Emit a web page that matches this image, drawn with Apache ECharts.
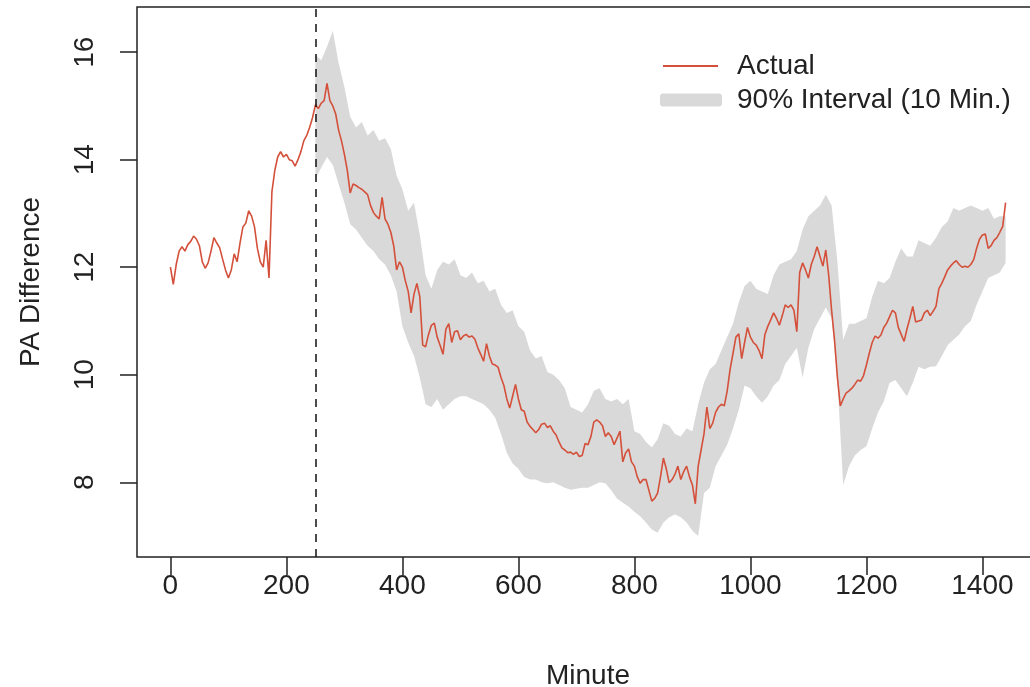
<!DOCTYPE html>
<html>
<head>
<meta charset="utf-8">
<script src="https://cdn.jsdelivr.net/npm/echarts@6/dist/echarts.min.js"></script>
<style>
  html, body { margin: 0; padding: 0; background: #fff; }
  #chartBox { width: 1030px; height: 687px; }
</style>
</head>
<body>
<div id="chartBox"></div>
<script>
// actual PA difference, one value every 5 minutes from 0 to 1440
const actualStart = 0, actualStep = 5;
const actualValues = [
  12.00,11.68,12.05,12.30,12.38,12.30,12.42,12.48,12.58,12.52,12.40,12.10,11.98,12.08,12.30,12.55,12.45,12.36,12.15,11.95,
  11.80,11.95,12.25,12.10,12.45,12.75,12.82,13.05,12.95,12.75,12.35,12.10,12.00,12.50,11.80,13.40,13.80,14.05,14.15,14.05,
  14.10,14.00,13.98,13.88,14.00,14.15,14.35,14.45,14.60,14.78,15.02,14.95,15.05,15.10,15.42,15.10,15.00,14.85,14.55,14.35,
  14.10,13.80,13.38,13.55,13.52,13.48,13.45,13.40,13.35,13.15,13.02,12.95,12.90,13.30,12.90,12.80,12.65,12.40,11.95,12.10,
  12.00,11.75,11.55,11.15,11.50,11.70,11.45,10.55,10.52,10.75,10.92,10.96,10.70,10.55,10.38,10.85,10.95,10.60,10.80,10.82,
  10.65,10.72,10.75,10.70,10.72,10.66,10.50,10.38,10.25,10.58,10.35,10.20,10.18,10.14,9.95,9.80,9.55,9.38,9.60,9.82,
  9.55,9.35,9.32,9.12,9.04,8.98,8.92,8.98,9.08,9.10,9.02,9.05,8.95,8.88,8.75,8.64,8.60,8.55,8.56,8.52,
  8.56,8.48,8.50,8.72,8.70,8.85,9.12,9.16,9.12,9.05,8.85,8.92,8.85,8.70,8.82,8.95,8.38,8.55,8.62,8.38,
  8.30,8.10,7.98,8.05,8.05,7.85,7.65,7.70,7.80,8.10,8.45,8.25,7.99,8.05,8.15,8.30,8.05,8.20,8.30,8.10,
  7.95,7.60,8.30,8.60,8.90,9.40,9.00,9.10,9.30,9.40,9.45,9.42,9.70,10.10,10.40,10.70,10.76,10.30,10.60,10.88,
  10.70,10.60,10.55,10.45,10.30,10.75,10.90,11.02,11.15,11.05,10.92,11.10,11.30,11.25,11.30,11.20,10.80,11.90,12.08,11.95,
  11.80,12.05,12.20,12.38,12.20,12.02,12.32,11.85,11.20,10.65,9.95,9.42,9.55,9.66,9.70,9.75,9.82,9.90,9.88,9.98,
  10.18,10.40,10.60,10.72,10.68,10.74,10.88,10.96,11.08,11.20,11.15,10.88,10.75,10.62,10.85,11.05,11.27,10.98,11.00,11.02,
  11.15,11.20,11.10,11.18,11.27,11.60,11.70,11.82,11.95,12.02,12.08,12.12,12.05,12.00,12.02,12.00,12.05,12.14,12.35,12.52,
  12.60,12.62,12.35,12.40,12.50,12.55,12.65,12.76,13.20
];

// 90% interval (10 min ahead), one value every 10 minutes from 250 to 1440
const bandStart = 250, bandStep = 10;
const bandUpper = [
  15.95,15.85,16.10,16.40,15.80,15.35,14.80,14.60,14.70,14.45,
  14.55,14.35,14.40,14.20,13.70,13.45,13.05,13.20,12.60,11.85,
  11.60,11.95,12.10,12.05,12.15,11.85,11.80,11.90,11.70,11.75,
  11.55,11.60,11.30,11.15,11.20,10.90,10.80,10.45,10.30,10.35,
  10.05,10.00,9.90,9.75,9.40,9.35,9.30,9.45,9.70,9.75,
  9.55,9.50,9.55,9.45,9.55,8.95,8.90,8.75,8.65,8.80,
  9.10,9.05,8.90,8.85,9.00,8.95,9.45,9.85,10.10,10.20,
  10.45,10.70,10.95,11.35,11.65,11.75,11.60,11.55,11.50,11.85,
  12.05,12.10,12.15,12.30,12.70,12.95,13.05,13.15,13.35,13.15,
  12.10,10.65,10.95,10.95,11.00,11.05,11.45,11.75,11.70,11.80,
  12.10,12.35,12.20,12.20,12.50,12.45,12.40,12.55,12.75,12.85,
  13.10,13.05,13.10,13.15,13.10,13.05,13.10,12.90,12.95,12.95
];
const bandLower = [
  13.65,13.85,14.05,13.90,13.55,13.20,12.80,12.70,12.55,12.40,
  12.30,12.15,12.05,11.85,11.55,10.90,10.60,10.35,9.95,9.45,
  9.40,9.55,9.35,9.45,9.55,9.60,9.60,9.55,9.50,9.45,
  9.35,9.20,8.90,8.55,8.35,8.25,8.10,8.05,8.05,8.00,
  7.98,8.00,7.95,7.90,7.86,7.88,7.90,7.90,7.95,8.00,
  7.98,7.85,7.70,7.62,7.55,7.45,7.37,7.25,7.12,7.06,
  7.25,7.35,7.40,7.35,7.25,7.10,7.00,7.80,7.90,8.30,
  8.50,8.70,9.00,9.35,9.80,9.75,9.60,9.48,9.60,9.80,
  9.90,10.20,10.35,10.50,9.95,10.50,10.85,11.05,11.25,11.05,
  9.90,7.95,8.30,8.50,8.60,8.67,9.00,9.30,9.50,9.85,
  9.90,9.75,9.60,9.85,10.15,10.10,10.15,10.16,10.35,10.55,
  10.65,10.75,10.90,11.00,11.30,11.55,11.80,11.85,11.90,12.08
];

const xTicks = [0, 200, 400, 600, 800, 1000, 1200, 1400];
const yTicks = [8, 10, 12, 14, 16];
const forecastStart = 250;

const lineColor = '#d4503a';
const bandColor = '#d9d9d9';
const font = 'Liberation Sans, Arial, sans-serif';
const fs = 28;

const actualData = actualValues.map((v, i) => [actualStart + i * actualStep, v]);
const bandMinutes = bandUpper.map((v, i) => bandStart + i * bandStep);

const myChart = echarts.init(document.getElementById('chartBox'), null, {renderer: 'canvas'});

const option = {
  animation: false,
  backgroundColor: '#fff',
  grid: {
    left: 137, top: 7, width: 902, height: 550,
    outerBoundsMode: 'none',
    containLabel: false,
    show: true, borderColor: '#222', borderWidth: 1.5, backgroundColor: 'transparent'
  },
  legend: [
    {
      data: [{name: 'Actual', icon: 'rect'}],
      left: 658, top: 47, itemWidth: 55, itemHeight: 2,
      textStyle: {fontFamily: font, fontSize: fs, color: '#222', padding: [0, 0, 0, 14]}
    },
    {
      data: [{name: '90% Interval (10 Min.)', icon: 'roundRect'}],
      left: 655, top: 81, itemWidth: 62, itemHeight: 13,
      textStyle: {fontFamily: font, fontSize: fs, color: '#222', padding: [0, 0, 0, 10]}
    }
  ],
  xAxis: {
    type: 'value', min: -57.6, max: 1497.6,
    name: 'Minute', nameLocation: 'middle', nameGap: 105,
    nameTextStyle: {fontFamily: font, fontSize: fs, color: '#222'},
    splitLine: {show: false},
    axisLine: {show: false, onZero: false},
    axisTick: {show: true, length: 18, lineStyle: {color: '#222', width: 1.5}, customValues: xTicks},
    axisLabel: {
      fontFamily: font, fontSize: fs, color: '#222', margin: 15, customValues: xTicks,
      formatter: function (v) { return String(v); }
    }
  },
  yAxis: {
    type: 'value', min: 6.61, max: 16.84,
    name: 'PA Difference', nameLocation: 'middle', nameGap: 92, nameRotate: 90,
    nameTextStyle: {fontFamily: font, fontSize: fs, color: '#222'},
    splitLine: {show: false},
    axisLine: {show: false, onZero: false},
    axisTick: {show: true, length: 17, lineStyle: {color: '#222', width: 1.5}, customValues: yTicks},
    axisLabel: {
      fontFamily: font, fontSize: fs, color: '#222', margin: 38, rotate: 90, customValues: yTicks,
      formatter: function (v) { return String(v); }
    }
  },
  series: [
    {
      name: '90% Interval (10 Min.)',
      type: 'custom',
      z: 1,
      clip: true,
      itemStyle: {color: bandColor},
      data: [[bandStart, bandUpper[0]]],
      renderItem: function (params, api) {
        const pts = [];
        for (let i = 0; i < bandMinutes.length; i++) {
          pts.push(api.coord([bandMinutes[i], bandUpper[i]]));
        }
        for (let i = bandMinutes.length - 1; i >= 0; i--) {
          pts.push(api.coord([bandMinutes[i], bandLower[i]]));
        }
        return {type: 'polygon', shape: {points: pts}, style: {fill: bandColor}};
      }
    },
    {
      name: 'Actual',
      type: 'line',
      z: 3,
      showSymbol: false,
      symbol: 'none',
      itemStyle: {color: lineColor},
      lineStyle: {color: lineColor, width: 1.6},
      data: actualData,
      markLine: {
        silent: true,
        symbol: 'none',
        label: {show: false},
        lineStyle: {color: '#111', type: [8, 7], width: 1.5},
        data: [{xAxis: forecastStart}]
      }
    }
  ]
};

myChart.setOption(option);
</script>
</body>
</html>
